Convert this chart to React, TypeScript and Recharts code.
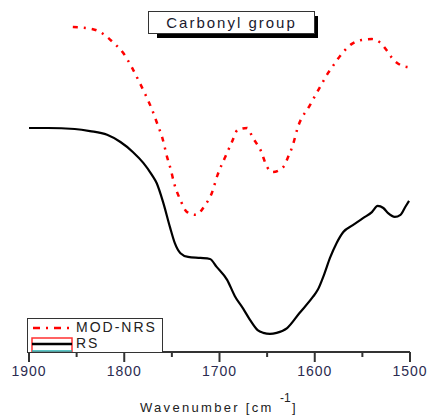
import React from "react";
import { LineChart, Line, XAxis, YAxis } from "recharts";

// wavenumber (cm-1) and relative transmittance (a.u.)
const rsWave = [
  1900, 1880, 1852, 1836, 1818, 1804, 1791, 1780, 1771, 1766, 1759, 1752, 1747,
  1741, 1733, 1720, 1710, 1703, 1692, 1684, 1675, 1668, 1660, 1654, 1647, 1640,
  1629, 1616, 1602, 1597, 1590, 1584, 1577, 1570, 1560, 1549, 1540, 1534, 1528,
  1523, 1516, 1510, 1505, 1501,
];
const rsValue = [
  65.5, 65.5, 65.2, 64.6, 63.5, 61.4, 58.5, 55.3, 51.8, 49.4, 43.6, 36.5, 31.9,
  28.9, 27.8, 27.5, 27.2, 24.9, 21.1, 16.4, 12.6, 9.4, 6.4, 5.6, 5.3, 5.6, 7.0,
  11.4, 16.1, 18.1, 22.8, 27.5, 31.9, 35.1, 37.1, 39.2, 40.9, 42.7, 42.1, 40.6,
  39.5, 40.1, 42.4, 44.2,
];

const modWave = [
  1854, 1833, 1822, 1812, 1801, 1792, 1785, 1778, 1771, 1765, 1760, 1755, 1751,
  1748, 1741, 1734, 1725, 1715, 1708, 1702, 1694, 1687, 1681, 1671, 1665, 1657,
  1650, 1644, 1633, 1628, 1623, 1618, 1605, 1592, 1586, 1581, 1571, 1561, 1551,
  1540, 1531, 1524, 1519, 1510, 1502,
];
const modValue = [
  95.0, 94.4, 93.0, 90.6, 87.4, 83.2, 79.4, 75.4, 71.0, 66.5, 62.6, 57.0, 53.2,
  49.7, 44.4, 40.9, 40.1, 43.0, 46.5, 51.8, 57.0, 61.4, 64.9, 65.5, 62.6, 59.1,
  54.1, 52.6, 54.1, 57.0, 60.5, 65.5, 72.2, 78.7, 81.6, 83.6, 87.4, 90.1, 91.2,
  91.5, 90.4, 88.0, 86.0, 83.9, 83.3,
];

const xTicks = [1900, 1850, 1800, 1750, 1700, 1650, 1600, 1550, 1500];

const rsData = rsWave.map((w, i) => ({ w, v: rsValue[i] }));
const modData = modWave.map((w, i) => ({ w, v: modValue[i] }));

const AXIS_COLOR = "#333";
const TICK_COLOR = "#2b2b50";
const FONT = "Arial, 'Liberation Sans', sans-serif";

function WaveTick(props: any) {
  const { x, y, payload } = props;
  const major = payload.value % 100 === 0;
  return (
    <g>
      <line x1={x} x2={x} y1={y} y2={y + (major ? 10 : 5)} stroke={AXIS_COLOR} strokeWidth={2} />
      {major && (
        <text
          x={x}
          y={y + 24}
          textAnchor="middle"
          fill={TICK_COLOR}
          style={{ fontFamily: FONT, fontSize: 14, letterSpacing: 1 }}
        >
          {payload.value}
        </text>
      )}
    </g>
  );
}

export default function App() {
  return (
    <div
      style={{
        position: "relative",
        width: 429,
        height: 418,
        overflow: "hidden",
        background: "#fff",
        fontFamily: FONT,
      }}
    >
      <style>{"html,body{margin:0;padding:0;overflow:hidden;}"}</style>
      <LineChart
        width={429}
        height={418}
        margin={{ top: 10, right: 19, bottom: 36, left: 29 }}
        style={{ overflow: "visible" }}
      >
        <XAxis
          type="number"
          dataKey="w"
          domain={[1500, 1900]}
          reversed
          ticks={xTicks}
          interval={0}
          height={30}
          tickSize={0}
          tickMargin={0}
          tick={<WaveTick />}
          axisLine={{ stroke: AXIS_COLOR, strokeWidth: 2 }}
          allowDataOverflow
        />
        <YAxis type="number" domain={[0, 100]} hide width={0} />
        <Line
          data={modData}
          dataKey="v"
          type="monotone"
          stroke="#ff0000"
          strokeWidth={2.5}
          strokeDasharray="5 6 2 6"
          dot={false}
          isAnimationActive={false}
        />
        <Line
          data={rsData}
          dataKey="v"
          type="monotone"
          stroke="#000"
          strokeWidth={2.2}
          dot={false}
          isAnimationActive={false}
        />
      </LineChart>

      {/* title box with drop shadow */}
      <div style={{ position: "absolute", left: 157, top: 16, width: 161, height: 22, background: "#000" }} />
      <div
        style={{
          position: "absolute",
          left: 148,
          top: 11,
          width: 165,
          height: 21,
          background: "#fff",
          border: "1px solid #333",
          display: "flex",
          alignItems: "center",
          justifyContent: "center",
          fontSize: 15,
          letterSpacing: 2,
          color: "#1a1a2e",
        }}
      >
        Carbonyl group
      </div>

      {/* legend */}
      <div
        style={{
          position: "absolute",
          left: 27,
          top: 318,
          width: 134,
          height: 33,
          border: "1px solid #333",
          background: "#fff",
          fontSize: 14,
          letterSpacing: 2,
          color: "#222",
        }}
      >
        <svg width={46} height={33} style={{ position: "absolute", left: 3, top: 0 }}>
          <line x1={2} x2={38} y1={9} y2={9} stroke="#ff0000" strokeWidth={2.5} strokeDasharray="7 6 2 6" />
          <rect x={1} y={19} width={40} height={14} fill="none" stroke="#ff3030" strokeWidth={1.5} />
          <line x1={1} x2={41} y1={25} y2={25} stroke="#000" strokeWidth={2.5} />
          <line x1={1} x2={41} y1={32} y2={32} stroke="#20b0b0" strokeWidth={1.5} />
        </svg>
        <div style={{ position: "absolute", left: 48, top: 0, lineHeight: "17px" }}>MOD-NRS</div>
        <div style={{ position: "absolute", left: 48, top: 16, lineHeight: "17px" }}>RS</div>
      </div>

      {/* x axis title */}
      <div
        style={{
          position: "absolute",
          left: 140,
          top: 400,
          fontSize: 13,
          lineHeight: "16px",
          letterSpacing: 2.3,
          color: "#222",
          whiteSpace: "nowrap",
        }}
      >
        Wavenumber [cm
      </div>
      <div style={{ position: "absolute", left: 280, top: 391, fontSize: 12, lineHeight: "14px", color: "#222" }}>
        -1
      </div>
      <div style={{ position: "absolute", left: 292, top: 400, fontSize: 13, lineHeight: "16px", color: "#222" }}>
        ]
      </div>
    </div>
  );
}
